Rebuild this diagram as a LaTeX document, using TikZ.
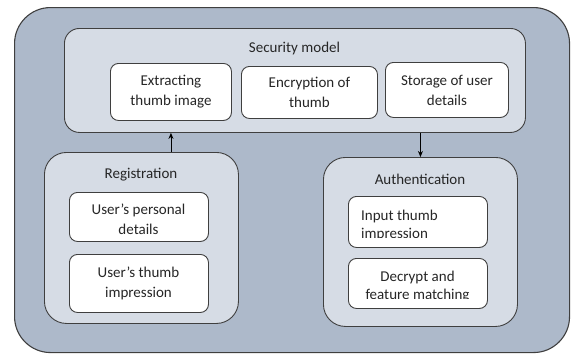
\documentclass[tikz,border=0pt]{standalone}
\usepackage{fontspec}
\setmainfont{Carlito}
\usetikzlibrary{arrows.meta}
\definecolor{outerfill}{HTML}{ADB9CA}
\definecolor{innerfill}{HTML}{D6DCE5}
\definecolor{edgecol}{HTML}{3F3F3F}
\tikzset{
  panel/.style={draw=edgecol, line width=0.9pt, inner sep=0pt, anchor=north west},
  outerbox/.style={panel, fill=outerfill, rounded corners=36pt, line width=1.1pt},
  groupbox/.style={panel, fill=innerfill, rounded corners=#1},
  itembox/.style={panel, fill=white, rounded corners=8pt},
  lbl/.style={inner sep=0pt, align=center, font=\fontsize{15}{20}\selectfont, text=black!85},
  lbltight/.style={lbl, font=\fontsize{15}{18}\selectfont},
  conn/.style={draw=black, line width=0.9pt, -{Stealth[length=6pt,width=5pt]}}
}
\newcommand{\boxnode}[6]{%
  \node[#6, minimum width=#4pt-#2pt, minimum height=#5pt-#3pt] (#1) at (#2,#3) {};}
\begin{document}
\begin{tikzpicture}[x=1pt,y=-1pt]
\useasboundingbox (0,0) rectangle (572,354);
% outer container
\boxnode{outer}{14}{7}{569}{352}{outerbox}
% security model
\boxnode{sec}{64}{28}{525}{132}{groupbox=15pt}
\node[lbl] (sectitle) at (294.5,48) {Security model};
\boxnode{ext}{110}{63}{231}{120}{itembox}
\boxnode{enc}{241}{66}{377}{118}{itembox}
\boxnode{sto}{385}{62}{508}{117}{itembox}
\node[lbl] (exttxt) at (ext.center) {Extracting\\thumb image};
\node[lbl] (enctxt) at (enc.center) {Encryption of\\thumb};
\node[lbl] (stotxt) at (sto.center) {Storage of user\\details};
% registration
\boxnode{reg}{44}{152}{238}{323}{groupbox=22pt}
\node[lbl] (regtitle) at (141,175) {Registration};
\boxnode{upd}{69}{192}{208}{241}{itembox}
\boxnode{uti}{69}{254}{208}{312}{itembox}
\node[lbl] (updtxt) at (138.5,219) {User’s personal\\details};
\node[lbl] (utitxt) at (138.5,283) {User’s thumb\\impression};
% authentication
\boxnode{auth}{323}{157}{517}{326}{groupbox=22pt}
\node[lbl] (authtitle) at (420,179) {Authentication};
\boxnode{inp}{348}{196}{487}{247}{itembox}
\boxnode{dec}{348}{258}{487}{308}{itembox}
\begin{scope}
  \clip (348,196) rectangle (487,237);
  \node[lbltight, align=left, anchor=west] (inptxt) at (361,225) {Input thumb\\impression};
\end{scope}
\begin{scope}
  \clip (348,258) rectangle (487,298.5);
  \node[lbltight] (dectxt) at (417.5,287) {Decrypt and\\feature matching};
\end{scope}
% connectors
\draw[conn] (reg.north -| ext.south) -- (sec.south -| ext.south);
\draw[conn] (sec.south -| auth.north) -- (auth.north);
\end{tikzpicture}
\end{document}
